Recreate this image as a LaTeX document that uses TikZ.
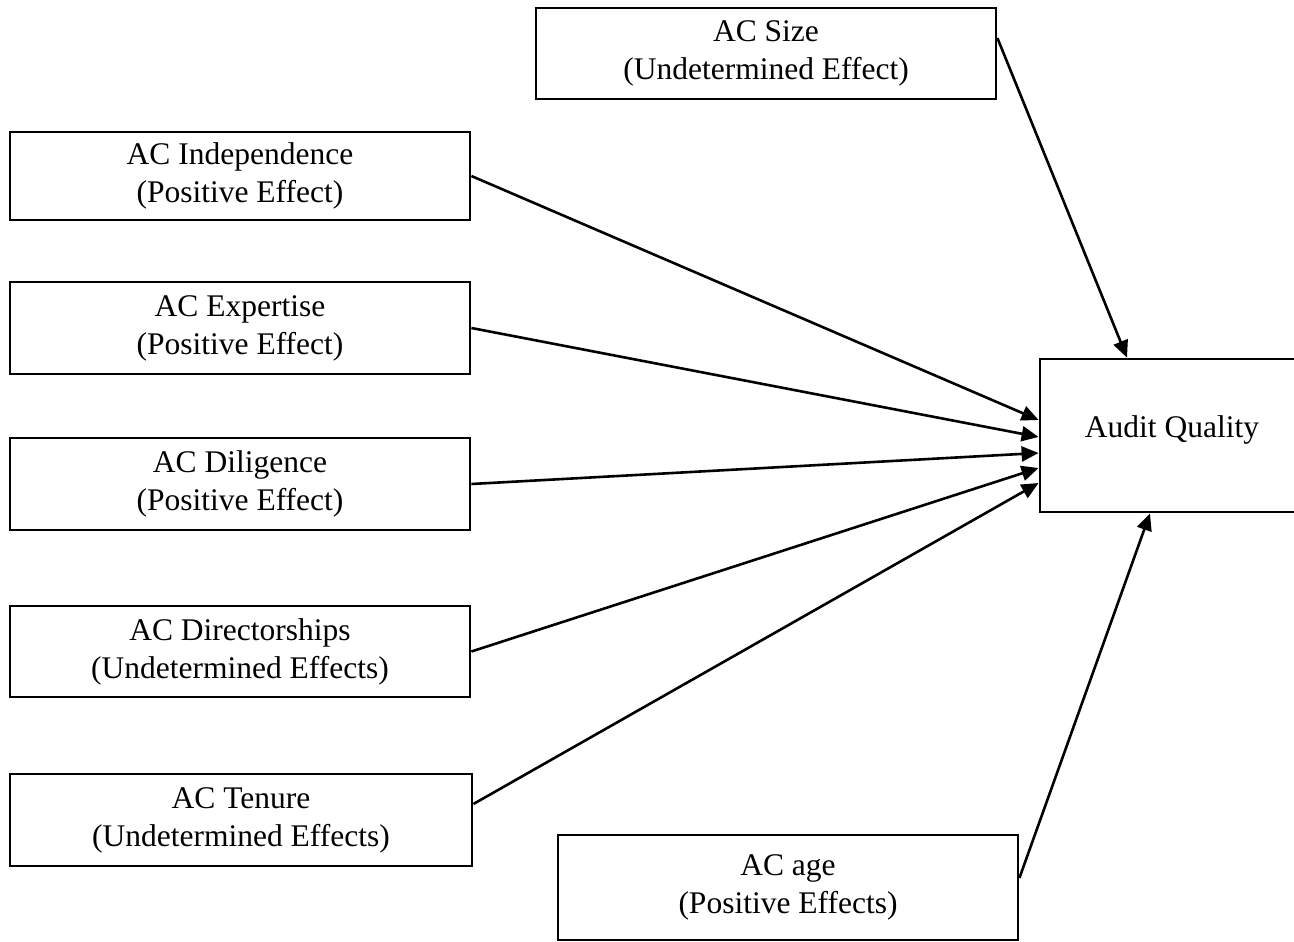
\documentclass[tikz,border=0pt]{standalone}
\usepackage{fontspec}
\setmainfont{Liberation Serif}
\usetikzlibrary{arrows.meta}
\tikzset{
  box/.style={draw, line width=2.8pt, align=center, inner sep=0pt,
    font=\fontsize{31.5}{38}\selectfont},
  conn/.style={line width=2.6pt, -{Triangle[length=17pt,width=15pt]}}
}
\begin{document}
\begin{tikzpicture}[x=1pt,y=-1pt]
\useasboundingbox (0,0) rectangle (1294,942);
\node[box, minimum width=460pt, minimum height=91pt] (size) at (766,53.5) {AC Size\\(Undetermined Effect)};
\node[box, minimum width=460pt, minimum height=88pt] (indep) at (240,176) {AC Independence\\(Positive Effect)};
\node[box, minimum width=460pt, minimum height=92pt] (exp) at (240,328) {AC Expertise\\(Positive Effect)};
\node[box, minimum width=460pt, minimum height=92pt] (dil) at (240,484) {AC Diligence\\(Positive Effect)};
\node[box, minimum width=460pt, minimum height=91pt] (dir) at (240,651.5) {AC Directorships\\(Undetermined Effects)};
\node[box, minimum width=462pt, minimum height=92pt] (ten) at (241,820) {AC Tenure\\(Undetermined Effects)};
\node[box, minimum width=460pt, minimum height=105pt] (age) at (788,887.5) {AC age\\(Positive Effects)};
\node[box, minimum width=264pt, minimum height=153pt] (aq) at (1172,435.5) {\raisebox{0pt}[\height][\dimexpr\depth+12pt\relax]{Audit Quality}};
\draw[conn] ([yshift=15.5pt]size.east) -- ([xshift=-45pt]aq.north);
\draw[conn] (indep.east) -- ([yshift=15.5pt]aq.west);
\draw[conn] (exp.east) -- ([yshift=-1.5pt]aq.west);
\draw[conn] (dil.east) -- ([yshift=-17.5pt]aq.west);
\draw[conn] (dir.east) -- ([yshift=-32.5pt]aq.west);
\draw[conn] ([yshift=16pt]ten.east) -- ([yshift=-47.5pt]aq.west);
\draw[conn] ([yshift=9.5pt]age.east) -- ([xshift=-22pt]aq.south);
\end{tikzpicture}
\end{document}
